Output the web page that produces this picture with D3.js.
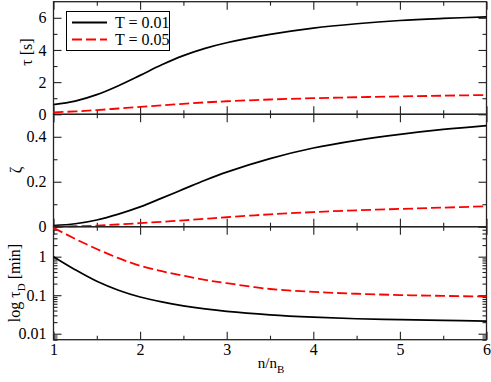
<!DOCTYPE html>
<html>
<head>
<meta charset="utf-8">
<script src="https://cdn.jsdelivr.net/npm/d3@7"></script>
<style>
  body { margin: 0; background: #fff; }
  svg { display: block; }
  text { font-family: "Liberation Serif", "DejaVu Serif", serif; fill: #000; }
  .domain { display: none; }
</style>
</head>
<body>
<div id="chart"></div>
<script>
// values
var nRatio = [1, 1.25, 1.5, 1.75, 2, 2.25, 2.5, 2.75, 3, 3.5, 4, 4.5, 5, 5.5, 6];
var tau01  = [0.60, 0.82, 1.22, 1.78, 2.42, 3.08, 3.65, 4.10, 4.45, 4.97, 5.36, 5.63, 5.83, 5.96, 6.06];
var tau05  = [0.12, 0.18, 0.26, 0.36, 0.46, 0.56, 0.65, 0.74, 0.81, 0.92, 1.00, 1.06, 1.11, 1.155, 1.20];
var zeta01 = [0.005, 0.013, 0.030, 0.056, 0.088, 0.127, 0.167, 0.207, 0.243, 0.303, 0.350, 0.384, 0.411, 0.433, 0.450];
var zeta05 = [0.0, 0.002, 0.005, 0.010, 0.016, 0.022, 0.028, 0.035, 0.042, 0.055, 0.065, 0.073, 0.079, 0.085, 0.091];
var tauD01 = [1.0, 0.46, 0.23, 0.135, 0.09, 0.067, 0.053, 0.044, 0.038, 0.031, 0.027, 0.0245, 0.0232, 0.0222, 0.0213];
var tauD05 = [5.6, 2.9, 1.58, 0.92, 0.58, 0.42, 0.32, 0.25, 0.205, 0.145, 0.122, 0.109, 0.101, 0.096, 0.092];

var xTicks = [1, 2, 3, 4, 5, 6];
var tauTicks = [0, 2, 4, 6];
var zetaTicks = [0, 0.2, 0.4];
var tauDTicks = [0.01, 0.1, 1];
var legendLabels = ["T = 0.01", "T = 0.05"];

var W = 491, H = 382;
var left = 53.5, right = 486.5;
var serif = '"Liberation Serif", "DejaVu Serif", serif';

var svg = d3.select("#chart").append("svg")
    .attr("width", W)
    .attr("height", H);

var x = d3.scaleLinear().domain([1, 6]).range([left, right]);
var xMinor = d3.range(1.5, 6, 1);

var panels = [
    { y: d3.scaleLinear().domain([0, 7]).range([114.3, 1.7]),
      major: tauTicks, minor: [1, 3, 5], fmt: String,
      s1: tau01, s2: tau05 },
    { y: d3.scaleLinear().domain([0, 0.5]).range([226.7, 114.3]),
      major: zetaTicks, minor: [0.1, 0.3], fmt: String,
      s1: zeta01, s2: zeta05 },
    { y: d3.scaleLog().domain([0.007, 6]).range([339.7, 226.7]),
      major: tauDTicks, minor: null, fmt: String,
      s1: tauD01, s2: tauD05 }
];
// log minor ticks from the scale itself
panels[2].minor = panels[2].y.ticks().filter(function (v) {
    var l = Math.log10(v);
    return Math.abs(l - Math.round(l)) > 1e-6;
});

var frameColor = "#222";

panels.forEach(function (p, i) {
    var y = p.y;
    var y0 = y.range()[0], y1 = y.range()[1];
    var g = svg.append("g");

    // left / right
    g.append("g").attr("transform", "translate(" + left + ",0)")
        .call(d3.axisLeft(y).tickValues(p.major).tickFormat(p.fmt).tickSize(-8).tickPadding(7));
    g.append("g").attr("transform", "translate(" + left + ",0)")
        .call(d3.axisLeft(y).tickValues(p.minor).tickFormat("").tickSize(-4));
    g.append("g").attr("transform", "translate(" + right + ",0)")
        .call(d3.axisRight(y).tickValues(p.major).tickFormat("").tickSize(-8));
    g.append("g").attr("transform", "translate(" + right + ",0)")
        .call(d3.axisRight(y).tickValues(p.minor).tickFormat("").tickSize(-4));

    // top / bottom
    g.append("g").attr("transform", "translate(0," + y1 + ")")
        .call(d3.axisTop(x).tickValues(xTicks).tickFormat("").tickSize(-8));
    g.append("g").attr("transform", "translate(0," + y1 + ")")
        .call(d3.axisTop(x).tickValues(xMinor).tickFormat("").tickSize(-4));
    var bot = g.append("g").attr("transform", "translate(0," + y0 + ")")
        .call(d3.axisBottom(x).tickValues(xTicks).tickFormat(i === 2 ? String : "").tickSize(-8).tickPadding(1));
    bot.selectAll("text").attr("dy", "0.9em");
    g.append("g").attr("transform", "translate(0," + y0 + ")")
        .call(d3.axisBottom(x).tickValues(xMinor).tickFormat("").tickSize(-4));

    g.selectAll("g").attr("font-family", serif).attr("font-size", 16);
    g.selectAll(".tick line").attr("stroke", frameColor).attr("stroke-width", 1.1);

    // frame
    g.append("rect")
        .attr("x", left).attr("y", y1)
        .attr("width", right - left).attr("height", y0 - y1)
        .attr("fill", "none").attr("stroke", frameColor).attr("stroke-width", 1.3);

    var line = function (vals) {
        return d3.line()
            .x(function (d, k) { return x(nRatio[k]); })
            .y(function (d) { return y(d); })
            .curve(d3.curveCatmullRom.alpha(0.5))(vals);
    };
    g.append("path").attr("d", line(p.s1))
        .attr("fill", "none").attr("stroke", "#000").attr("stroke-width", 1.7);
    g.append("path").attr("d", line(p.s2))
        .attr("fill", "none").attr("stroke", "#ff0000").attr("stroke-width", 1.8)
        .attr("stroke-dasharray", "10,4");
});

// axis titles
svg.append("text")
    .attr("transform", "translate(32,52) rotate(-90)")
    .attr("text-anchor", "middle").style("font-size", "16px")
    .text("\u03C4 [s]");
svg.append("text")
    .attr("transform", "translate(21,170) rotate(-90)")
    .attr("text-anchor", "middle").style("font-size", "16px")
    .text("\u03B6");
var tl = svg.append("text")
    .attr("transform", "translate(20,283) rotate(-90)")
    .attr("text-anchor", "middle").style("font-size", "16px");
tl.append("tspan").text("log \u03C4");
tl.append("tspan").attr("dy", 5).style("font-size", "11px").text("D");
tl.append("tspan").attr("dy", -5).text(" [min]");

var xl = svg.append("text")
    .attr("x", 271).attr("y", 368)
    .attr("text-anchor", "middle").style("font-size", "15px");
xl.append("tspan").text("n/n");
xl.append("tspan").attr("dy", 5).style("font-size", "11px").text("B");

// legend
var leg = svg.append("g");
leg.append("rect")
    .attr("x", 66.5).attr("y", 11.5).attr("width", 103).attr("height", 39)
    .attr("fill", "#fff").attr("stroke", "#000").attr("stroke-width", 1);
legendLabels.forEach(function (lab, k) {
    var ly = 22.5 + k * 17;
    leg.append("line")
        .attr("x1", 72).attr("x2", 107).attr("y1", ly).attr("y2", ly)
        .attr("stroke", k === 0 ? "#000" : "#ff0000").attr("stroke-width", 1.8)
        .attr("stroke-dasharray", k === 0 ? null : "10,4");
    leg.append("text")
        .attr("x", 115).attr("y", ly + 5.5)
        .style("font-size", "16px")
        .text(lab);
});
</script>
</body>
</html>
